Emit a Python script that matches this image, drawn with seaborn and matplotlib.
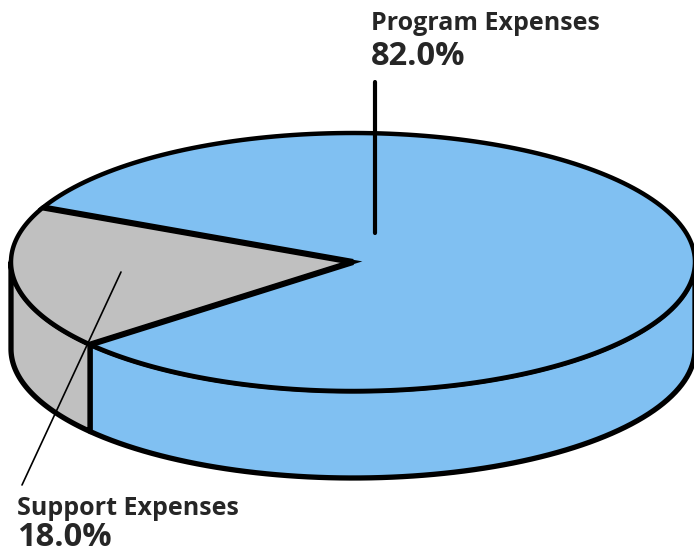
import numpy as np
import matplotlib
matplotlib.use("Agg")
import matplotlib.pyplot as plt
from matplotlib.patches import Polygon
import seaborn as sns

# Données du graphique
labels = ["Support Expenses", "Program Expenses"]
shares = [18.0, 82.0]
colors = ["#C0C0C0", "#80C0F2"]

# Mise en page (pixels)
CX, CY = 353, 262
RX, RY = 342, 129
DEPTH = 87
START = 155.0

sns.set_theme(style="white")
plt.rcParams["font.family"] = ["Open Sans", "DejaVu Sans"]


def rim(t, drop=0.0):
    t = np.radians(t)
    return CX + RX * np.cos(t), CY - RY * np.sin(t) + drop


fig = plt.figure(figsize=(6.94, 5.54), dpi=100)
ax = fig.add_axes([0, 0, 1, 1])
ax.set_xlim(0, 694)
ax.set_ylim(554, 0)
ax.axis("off")

# Angles des parts
bounds = START + np.concatenate([[0], np.cumsum(shares)]) * 3.6
slices = list(zip(bounds[:-1], bounds[1:], colors))

# Parois latérales (partie visible : 180° à 360°)
for a0, a1, col in slices:
    for off in (0, 360):
        lo, hi = max(a0, 180 + off), min(a1, 360 + off)
        if hi <= lo:
            continue
        t = np.linspace(lo, hi, 80)
        xt, yt = rim(t)
        xb, yb = rim(t[::-1], DEPTH)
        pts = np.column_stack([np.r_[xt, xb], np.r_[yt, yb]])
        ax.add_patch(Polygon(pts, closed=True, facecolor=col,
                             edgecolor="black", lw=3.8, joinstyle="round"))

# Dessus des parts
for a0, a1, col in slices:
    t = np.linspace(a0, a1, 200)
    xs, ys = rim(t)
    pts = np.column_stack([np.r_[CX, xs], np.r_[CY, ys]])
    ax.add_patch(Polygon(pts, closed=True, facecolor=col,
                         edgecolor="black", lw=3.2, joinstyle="miter"))

# Bords radiaux plus épais
for a in bounds[:-1]:
    x, y = rim(a)
    ax.plot([CX, x], [CY, y], color="black", lw=4.4, solid_capstyle="butt")

# Étiquettes et lignes de rappel
ax.plot([375, 375], [82, 233], color="black", lw=3)
ax.plot([121, 22], [272, 485], color="black", lw=1.2)

ax.text(371, 30, labels[1], fontsize=18, fontweight="bold", va="baseline")
ax.text(371, 65, f"{shares[1]:.1f}%", fontsize=23.5, fontweight="bold", va="baseline")
ax.text(17, 515, labels[0], fontsize=18, fontweight="bold", va="baseline")
ax.text(17, 546, f"{shares[0]:.1f}%", fontsize=23.5, fontweight="bold", va="baseline")

fig.savefig("out.png", dpi=100)
plt.close(fig)
